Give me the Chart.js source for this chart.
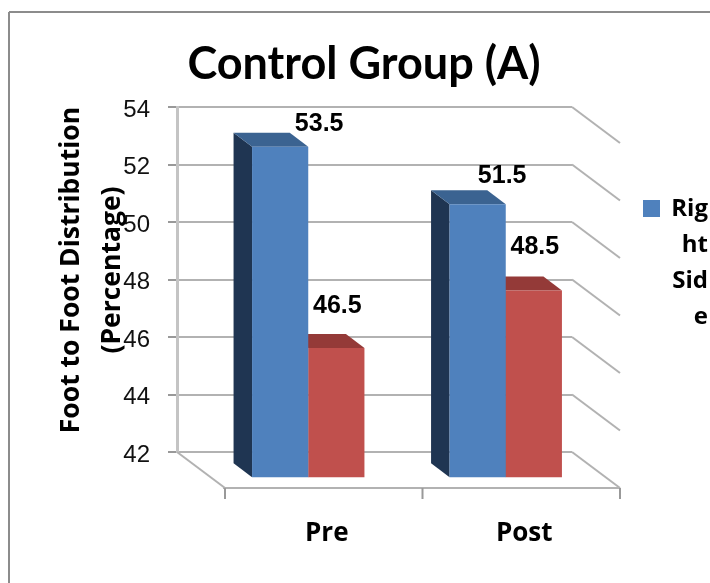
<!DOCTYPE html>
<html>
<head>
  <meta charset="UTF-8" />
  <title>Control Group (A)</title>
  <script src="https://cdn.jsdelivr.net/npm/chart.js"></script>
  <style>
    body { margin: 0; background: #fff; }
    canvas { display: block; }
  </style>
</head>
<body>
<canvas id="groupChart" width="710" height="583"></canvas>

<script>
  const categories = ['Pre', 'Post'];
  const rightSide = [53.5, 51.5];
  const leftSide = [46.5, 48.5];
  const yTicks = [42, 44, 46, 48, 50, 52, 54];

  const chartTitle = 'Control Group (A)';
  const yTitleLines = ['Foot to Foot Distribution', '(Percentage)'];
  const legendLines = ['Rig', 'ht', 'Sid', 'e'];

  const labelFont = 'bold 25px "Liberation Sans"';
  const textFont = '"Open Sans"';
  const gridColor = '#b2b2b2';

  // how far the floor runs towards the viewer, and where the bars stand on it
  const floorDepth = { x: 48, y: 36 };
  const barShift = { x: 32.5, y: 25.3 };
  const barDepth = { x: 18.5, y: 14 };

  // value labels sit off the bars by hand in the original
  const labelNudge = [
    [[39, -23], [24.5, -28]],
    [[1, -42], [1, -43]]
  ];

  const sideColors = ['#1f3552', '#7d2f2d'];
  const topColors = ['#3b6391', '#943a38'];

  function poly(ctx, points, color) {
    ctx.fillStyle = color;
    ctx.beginPath();
    points.forEach((p, i) => i ? ctx.lineTo(p[0], p[1]) : ctx.moveTo(p[0], p[1]));
    ctx.closePath();
    ctx.fill();
  }

  function line(ctx, x1, y1, x2, y2, color, width) {
    ctx.strokeStyle = color;
    ctx.lineWidth = width;
    ctx.beginPath();
    ctx.moveTo(x1, y1);
    ctx.lineTo(x2, y2);
    ctx.stroke();
  }

  const depthPlugin = {
    id: 'depth',
    beforeDatasetsDraw(chart) {
      const ctx = chart.ctx;
      const area = chart.chartArea;
      const y = chart.scales.y;

      ctx.save();
      // outer frame, open on the right and at the bottom
      line(ctx, 9, 583, 9, 12, '#8c8c8c', 2);
      line(ctx, 9, 12, 710, 12, '#8c8c8c', 2);

      // side wall of the grid
      yTicks.forEach(t => {
        const py = y.getPixelForValue(t);
        line(ctx, area.right, py, area.right + floorDepth.x, py + floorDepth.y, gridColor, 2);
      });
      const floorY = area.bottom + floorDepth.y;
      line(ctx, area.left, area.bottom, area.left + floorDepth.x, floorY, gridColor, 2);
      line(ctx, area.left + floorDepth.x - 2, floorY, area.right + floorDepth.x, floorY, gridColor, 2);
      [0, 1, 2].forEach(i => {
        const px = area.left + floorDepth.x + i * (area.right - area.left) / categories.length;
        line(ctx, px, floorY, px, floorY + 11, '#999999', 2);
      });

      // bar sides and tops, red first so that blue lies over it
      [1, 0].forEach(d => {
        chart.getDatasetMeta(d).data.forEach(bar => {
          const l = bar.x - bar.width / 2 + barShift.x;
          const r = bar.x + bar.width / 2 + barShift.x;
          const t = bar.y + barShift.y;
          const b = area.bottom + barShift.y;
          poly(ctx, [[l, t], [l - barDepth.x, t - barDepth.y], [l - barDepth.x, b - barDepth.y], [l, b]], sideColors[d]);
          poly(ctx, [[l, t], [l - barDepth.x, t - barDepth.y], [r - barDepth.x, t - barDepth.y], [r, t]], topColors[d]);
        });
      });
      ctx.restore();

      // the fronts are the library's own bars, moved forward on the floor
      ctx.save();
      ctx.translate(barShift.x, barShift.y);
    },
    afterDatasetsDraw(chart) {
      const ctx = chart.ctx;
      ctx.restore();

      ctx.save();
      ctx.fillStyle = '#000';
      ctx.textBaseline = 'middle';
      ctx.textAlign = 'center';

      // value labels
      ctx.font = labelFont;
      [0, 1].forEach(d => {
        const values = chart.data.datasets[d].data;
        chart.getDatasetMeta(d).data.forEach((bar, i) => {
          const nudge = labelNudge[d][i];
          ctx.fillText(values[i].toFixed(1), bar.x + barShift.x + nudge[0], bar.y + barShift.y + nudge[1]);
        });
      });

      // title
      ctx.font = 'bold 45px "Lato"';
      ctx.fillText(chartTitle, 364, 64);

      // axis title
      ctx.font = 'bold 26.5px ' + textFont;
      yTitleLines.forEach((text, i) => {
        ctx.save();
        ctx.translate(71 + i * 41, 270);
        ctx.rotate(-Math.PI / 2);
        ctx.fillText(text, 0, 0);
        ctx.restore();
      });

      // legend, only the first series is shown and its name wraps
      ctx.fillStyle = chart.data.datasets[0].backgroundColor;
      ctx.fillRect(643, 200, 17, 17);
      ctx.fillStyle = '#000';
      ctx.textAlign = 'right';
      ctx.font = 'bold 24px ' + textFont;
      legendLines.forEach((text, i) => ctx.fillText(text, 708, 209 + i * 36));
      ctx.restore();
    }
  };

  const chartConfig = {
    type: 'bar',
    data: {
      labels: categories,
      datasets: [
        { label: 'Right Side', data: rightSide, backgroundColor: '#4f81bd' },
        { label: 'Left Side', data: leftSide, backgroundColor: '#c0504d' }
      ]
    },
    options: {
      responsive: false,
      animation: false,
      layout: { padding: { top: 107, right: 138, bottom: 0, left: 0 } },
      categoryPercentage: 0.569,
      barPercentage: 1,
      plugins: {
        legend: { display: false },
        title: { display: false },
        tooltip: { enabled: false }
      },
      scales: {
        x: {
          afterFit(scale) { scale.height = 131; },
          grid: { display: false },
          border: { display: false },
          ticks: {
            padding: 58,
            labelOffset: 51,
            maxRotation: 0,
            color: '#000',
            font: { family: 'Open Sans', size: 26, weight: 'bold' }
          }
        },
        y: {
          min: 42,
          max: 54,
          afterFit(scale) { scale.width = 177; },
          afterBuildTicks(scale) { scale.ticks = yTicks.map(value => ({ value })); },
          grid: { color: gridColor, lineWidth: 2, tickLength: 9, tickColor: '#999999' },
          border: { display: true, color: '#c4c4c4', width: 3 },
          ticks: {
            padding: 18,
            labelOffset: 3,
            color: '#111',
            font: { family: 'Liberation Sans', size: 24 }
          }
        }
      }
    },
    plugins: [depthPlugin]
  };

  const groupChart = new Chart(document.getElementById('groupChart'), chartConfig);
</script>
</body>
</html>
